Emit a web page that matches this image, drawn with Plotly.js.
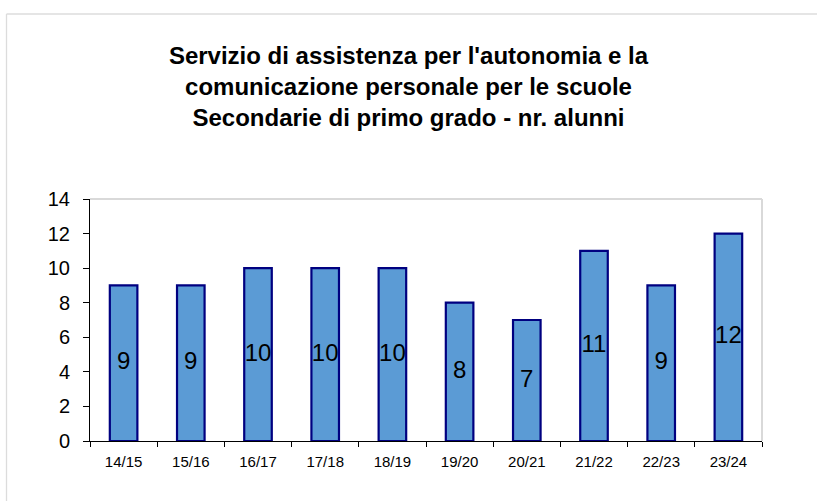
<!DOCTYPE html>
<html>
<head>
<meta charset="utf-8">
<script src="https://cdn.plot.ly/plotly-3.0.1.min.js"></script>
<style>html,body{margin:0;padding:0;background:#fff;}#chart{width:817px;height:501px;}</style>
</head>
<body>
<div id="chart"></div>
<script>
const categories = ["14/15","15/16","16/17","17/18","18/19","19/20","20/21","21/22","22/23","23/24"];
const alunni = [9, 9, 10, 10, 10, 8, 7, 11, 9, 12];
const yTicks = [0, 2, 4, 6, 8, 10, 12, 14];
const titleText = "Servizio di assistenza per l'autonomia e la<br>comunicazione personale per le scuole<br>Secondarie di primo grado - nr. alunni";

const W = 817, H = 501;
const mL = 90, mR = 55, mT = 199, mB = 60;
const pw = W - mL - mR, ph = H - mT - mB;
const px = v => (v - mL) / pw;
const py = v => (H - mB - v) / ph;

const FONT = "Arial, 'Liberation Sans', sans-serif";

const bars = {
  type: 'bar',
  x: categories,
  y: alunni,
  width: 0.41,
  marker: {color: '#5B9BD5', line: {color: '#000080', width: 2.2}},
  hoverinfo: 'x+y',
  showlegend: false
};

const labels = {
  type: 'scatter',
  mode: 'text',
  x: categories,
  y: alunni.map(v => v / 2),
  text: alunni.map(String),
  textposition: 'middle center',
  textfont: {family: FONT, size: 24, color: '#000'},
  cliponaxis: false,
  hoverinfo: 'skip',
  showlegend: false
};

const layout = {
  width: W, height: H,
  margin: {l: mL, r: mR, t: mT, b: mB, pad: 0},
  paper_bgcolor: '#fff',
  plot_bgcolor: '#fff',
  font: {family: FONT, color: '#000'},
  title: {
    text: '<b>' + titleText + '</b>',
    font: {family: FONT, size: 24, color: '#000'},
    xref: 'container', x: 0.5, xanchor: 'center',
    yref: 'container', y: 1 - 64 / H, yanchor: 'top'
  },
  xaxis: {
    type: 'category',
    range: [-0.5, categories.length - 0.5],
    showgrid: false, zeroline: false,
    showline: true, linecolor: '#000', linewidth: 1,
    ticks: 'outside', tickson: 'boundaries', ticklen: 5, tickcolor: '#000', tickwidth: 1,
    ticklabelstandoff: 7,
    tickfont: {family: FONT, size: 15, color: '#000'},
    fixedrange: true
  },
  yaxis: {
    range: [0, 14],
    tickvals: yTicks,
    ticktext: yTicks.map(String),
    showgrid: false, zeroline: false,
    showline: true, linecolor: '#000', linewidth: 1,
    ticks: 'outside', ticklen: 6, tickcolor: '#000', tickwidth: 1,
    ticklabelstandoff: 9,
    tickfont: {family: FONT, size: 20, color: '#000'},
    fixedrange: true
  },
  shapes: [
    {type: 'line', xref: 'paper', yref: 'paper', x0: 0, x1: 1, y0: 1, y1: 1, line: {color: '#d9d9d9', width: 2}},
    {type: 'line', xref: 'paper', yref: 'paper', x0: 1, x1: 1, y0: 0, y1: 1, line: {color: '#d9d9d9', width: 2}},
    {type: 'line', xref: 'paper', yref: 'paper', x0: px(6.5), x1: px(6.5), y0: py(14), y1: py(520), line: {color: '#dcdcdc', width: 1.3}},
    {type: 'line', xref: 'paper', yref: 'paper', x0: px(6.5), x1: px(830), y0: py(14), y1: py(14), line: {color: '#dcdcdc', width: 1.3}}
  ],
  showlegend: false
};

Plotly.newPlot('chart', [bars, labels], layout, {displayModeBar: false, staticPlot: true});
</script>
</body>
</html>
